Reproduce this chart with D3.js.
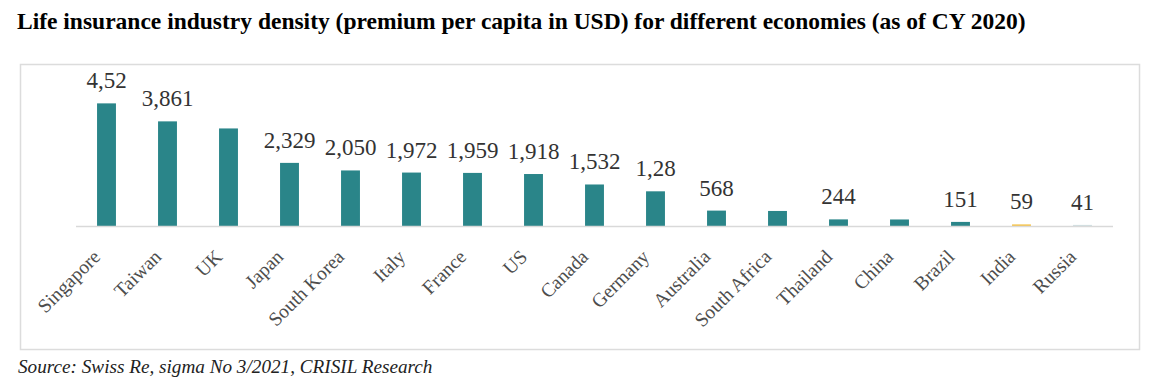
<!DOCTYPE html>
<html lang="en">
<head>
<meta charset="UTF-8">
<title>Life insurance density</title>
<style>
  body { margin: 0; background: #fff; }
  svg { display: block; font-family: "Liberation Serif", "Times New Roman", serif; }
</style>
</head>
<body>
<svg id="chart" width="1151" height="388"></svg>
<script src="https://d3js.org/d3.v7.min.js"></script>
<script>

// data
var countries = ["Singapore", "Taiwan", "UK", "Japan", "South Korea", "Italy", "France", "US",
    "Canada", "Germany", "Australia", "South Africa", "Thailand", "China", "Brazil", "India", "Russia"];
var premiums = [4525, 3861, 3600, 2329, 2050, 1972, 1959, 1918, 1532, 1280, 568, 555, 244, 241, 151, 59, 41];
// labels as printed (some are cut off / missing in the source)
var valueLabels = ["4,52", "3,861", "", "2,329", "2,050", "1,972", "1,959", "1,918",
    "1,532", "1,28", "568", "", "244", "", "151", "59", "41"];

var svg = d3.select("#chart"),
    baseY = 226,
    teal = "#2a8589",
    barColor = function (d) {
        if (d === "India") return "#f6c143";
        if (d === "Russia") return "#cfdfe2";
        return teal;
    };

var x = d3.scaleBand()
    .domain(countries)
    .range([76, 1113])
    .paddingInner(0.69)
    .paddingOuter(0.345);

var y = d3.scaleLinear()
    .domain([0, 5000])
    .range([baseY, baseY - 135.5]);

// title
svg.append("text")
    .attr("x", 17)
    .attr("y", 29)
    .attr("font-size", 23.5)
    .attr("font-weight", "bold")
    .attr("fill", "#000")
    .text("Life insurance industry density (premium per capita in USD) for different economies (as of CY 2020)");

// chart frame
svg.append("rect")
    .attr("x", 20.5)
    .attr("y", 64.5)
    .attr("width", 1119)
    .attr("height", 285)
    .attr("fill", "#fff")
    .attr("stroke", "#dcdcdc")
    .attr("stroke-width", 1.5);

// bars
svg.selectAll("rect.bar")
    .data(countries)
    .enter().append("rect")
    .attr("class", "bar")
    .attr("x", function (d) { return x(d); })
    .attr("width", x.bandwidth())
    .attr("y", function (d, i) { return y(premiums[i]); })
    .attr("height", function (d, i) { return baseY - y(premiums[i]); })
    .attr("fill", barColor);

// baseline
svg.append("line")
    .attr("x1", 76).attr("x2", 1113)
    .attr("y1", baseY + 0.5).attr("y2", baseY + 0.5)
    .attr("stroke", "#d9d9d9")
    .attr("stroke-width", 1.5);

// value labels
svg.selectAll("text.val")
    .data(countries)
    .enter().append("text")
    .attr("class", "val")
    .attr("x", function (d) { return x(d) + x.bandwidth() / 2; })
    .attr("y", function (d, i) { return y(premiums[i]) - 15; })
    .attr("text-anchor", "middle")
    .attr("font-size", 23)
    .attr("fill", "#333")
    .text(function (d, i) { return valueLabels[i]; });

// category labels
svg.selectAll("text.cat")
    .data(countries)
    .enter().append("text")
    .attr("class", "cat")
    .attr("transform", function (d) {
        return "translate(" + (x(d) + x.bandwidth() / 2 - 5) + "," + 258 + ") rotate(-45)";
    })
    .attr("text-anchor", "end")
    .attr("font-size", 19.5)
    .attr("fill", "#4d4d4d")
    .text(function (d) { return d; });

// source
svg.append("text")
    .attr("x", 18)
    .attr("y", 373)
    .attr("font-size", 19.2)
    .attr("font-style", "italic")
    .attr("fill", "#222")
    .text("Source: Swiss Re, sigma No 3/2021, CRISIL Research");

</script>
</body>
</html>
